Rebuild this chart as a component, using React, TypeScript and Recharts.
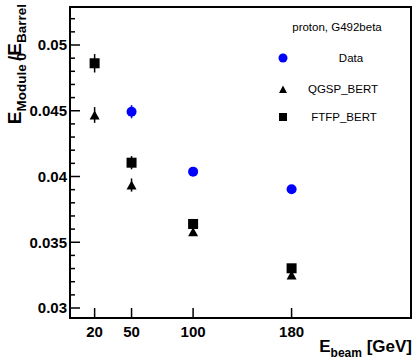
import { ScatterChart, Scatter, XAxis, YAxis, ErrorBar, ReferenceArea } from "recharts";

// beam energies (GeV)
const simEnergies = [20, 50, 100, 180];
const dataEnergies = [50, 100, 180];

// E_Module0 / E_Barrel
const dataValues = [0.04493, 0.04037, 0.03903];
const dataErrors = [0.0005, 0.0002, 0.0002];
const qgspValues = [0.04468, 0.03935, 0.0358, 0.03251];
const qgspErrors = [0.0006, 0.0005, 0.0003, 0.0002];
const ftfpValues = [0.04861, 0.04105, 0.03639, 0.03302];
const ftfpErrors = [0.0007, 0.0005, 0.0003, 0.0002];

const seriesNames = ["Data", "QGSP_BERT", "FTFP_BERT"];
const xTicks = [20, 50, 100, 180];
const yTicks = [0.03, 0.035, 0.04, 0.045, 0.05];

const X_DOMAIN: [number, number] = [0, 277];
const Y_DOMAIN: [number, number] = [0.02924, 0.05289];

// minor ticks every 0.001 inside the frame
const yMinor: number[] = [];
for (let k = 0; k <= 22; k++) {
  const v = Math.round((0.03 + k * 0.001) * 1e6) / 1e6;
  if (v <= Y_DOMAIN[1]) yMinor.push(v);
}

const toPoints = (xs: number[], ys: number[], es: number[]) =>
  xs.map((x, i) => ({ x, y: ys[i], err: es[i] }));

const dataPts = toPoints(dataEnergies, dataValues, dataErrors);
const qgspPts = toPoints(simEnergies, qgspValues, qgspErrors);
const ftfpPts = toPoints(simEnergies, ftfpValues, ftfpErrors);

const FONT = "'Liberation Sans', Arial, Helvetica, sans-serif";

const CircleMark = (p: any) => <circle cx={p.cx} cy={p.cy} r={5} fill="#0000ff" />;
const TriangleMark = (p: any) => (
  <polygon
    points={`${p.cx - 5},${p.cy + 4.5} ${p.cx + 5},${p.cy + 4.5} ${p.cx},${p.cy - 4.5}`}
    fill="#000"
  />
);
const SquareMark = (p: any) => (
  <rect x={p.cx - 5} y={p.cy - 5} width={10} height={10} fill="#000" />
);

const YTick = (props: any) => {
  const { x, y, payload } = props;
  const major = yTicks.some((t) => Math.abs(t - payload.value) < 1e-7);
  return (
    <g>
      <line x1={x} x2={x + (major ? 10 : 5)} y1={y} y2={y} stroke="#000" strokeWidth={1.5} />
      {major && (
        <text
          x={x - 3}
          y={y}
          dy="0.36em"
          textAnchor="end"
          fontFamily={FONT}
          fontWeight="bold"
          fontSize={15}
          fill="#000"
        >
          {String(yTicks.find((t) => Math.abs(t - payload.value) < 1e-7))}
        </text>
      )}
    </g>
  );
};

const XTick = (props: any) => {
  const { x, y, payload } = props;
  return (
    <g>
      <line x1={x} x2={x} y1={y} y2={y - 10} stroke="#000" strokeWidth={1.5} />
      <text
        x={x}
        y={y + 19}
        textAnchor="middle"
        fontFamily={FONT}
        fontWeight="bold"
        fontSize={15}
        fill="#000"
      >
        {payload.value}
      </text>
    </g>
  );
};

export default function App() {
  return (
    <div
      style={{
        position: "absolute",
        left: 0,
        top: 0,
        width: 415,
        height: 359,
        background: "#fff",
        overflow: "hidden",
      }}
    >
      <ScatterChart
        width={415}
        height={359}
        margin={{ top: 7, right: 4, left: 0, bottom: 0 }}
      >
        <XAxis
          type="number"
          dataKey="x"
          domain={X_DOMAIN}
          ticks={xTicks}
          interval={0}
          allowDataOverflow
          height={41}
          tickSize={0}
          tickMargin={0}
          tickLine={false}
          axisLine={{ stroke: "#000", strokeWidth: 2 }}
          tick={<XTick />}
        />
        <YAxis
          type="number"
          dataKey="y"
          domain={Y_DOMAIN}
          ticks={yMinor}
          interval={0}
          allowDataOverflow
          width={70}
          tickSize={0}
          tickMargin={0}
          tickLine={false}
          axisLine={{ stroke: "#000", strokeWidth: 2 }}
          tick={<YTick />}
        />
        <ReferenceArea
          x1={X_DOMAIN[0]}
          x2={X_DOMAIN[1]}
          y1={Y_DOMAIN[0]}
          y2={Y_DOMAIN[1]}
          fill="none"
          stroke="#000"
          strokeWidth={2}
          fillOpacity={0}
        />
        <Scatter name={seriesNames[1]} data={qgspPts} shape={<TriangleMark />} isAnimationActive={false}>
          <ErrorBar dataKey="err" direction="y" width={0} stroke="#000" strokeWidth={1.5} />
        </Scatter>
        <Scatter name={seriesNames[2]} data={ftfpPts} shape={<SquareMark />} isAnimationActive={false}>
          <ErrorBar dataKey="err" direction="y" width={0} stroke="#000" strokeWidth={1.5} />
        </Scatter>
        <Scatter name={seriesNames[0]} data={dataPts} shape={<CircleMark />} isAnimationActive={false}>
          <ErrorBar dataKey="err" direction="y" width={0} stroke="#0000ff" strokeWidth={1.5} />
        </Scatter>
      </ScatterChart>

      <svg
        width={415}
        height={359}
        style={{ position: "absolute", left: 0, top: 0, pointerEvents: "none" }}
        fontFamily={FONT}
      >
        {/* y title */}
        <text
          transform="translate(21,4) rotate(-90)"
          textAnchor="end"
          fontWeight="bold"
          fontSize={19}
          fill="#000"
        >
          E
          <tspan fontSize={13.5} dy={5}>Module 0</tspan>
          <tspan dy={-5} dx={-8}>/E</tspan>
          <tspan fontSize={13.5} dy={5}>Barrel</tspan>
        </text>
        {/* x title */}
        <text x={412} y={352} textAnchor="end" fontWeight="bold" fontSize={17} fill="#000">
          E
          <tspan fontSize={12} dy={5}>beam</tspan>
          <tspan dy={-5}> [GeV]</tspan>
        </text>

        {/* legend */}
        <text x={337} y={31} textAnchor="middle" fontSize={11.5} fill="#000">
          proton, G492beta
        </text>
        <circle cx={283} cy={58} r={4.5} fill="#0000ff" />
        <text x={351} y={62} textAnchor="middle" fontSize={11.5} fill="#000">
          {seriesNames[0]}
        </text>
        <polygon points="279,93 287,93 283,85.5" fill="#000" />
        <text x={343} y={93} textAnchor="middle" fontSize={11.5} fill="#000">
          {seriesNames[1]}
        </text>
        <rect x={279} y={113} width={8} height={8} fill="#000" />
        <text x={344} y={121} textAnchor="middle" fontSize={11.5} fill="#000">
          {seriesNames[2]}
        </text>
      </svg>
    </div>
  );
}
